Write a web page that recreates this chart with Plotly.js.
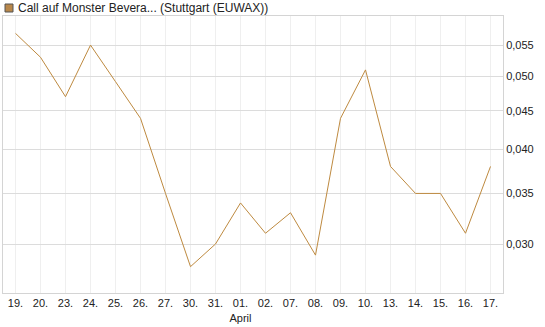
<!DOCTYPE html>
<html>
<head>
<meta charset="utf-8">
<script src="https://cdn.plot.ly/plotly-3.0.1.min.js"></script>
<style>html,body{margin:0;padding:0;background:#fff;}#chart{width:545px;height:327px;}</style>
</head>
<body>
<div id="chart"></div>
<script>
const dates = ['19.','20.','23.','24.','25.','26.','27.','30.','31.','01.','02.','07.','08.','09.','10.','13.','14.','15.','16.','17.'];
const tickLabels = ['19.','20.','23.','24.','25.','26.','27.','30.','31.','01.<br>April','02.','07.','08.','09.','10.','13.','14.','15.','16.','17.'];
const prices = [0.057,0.053,0.047,0.055,0.0492,0.044,0.035,0.028,0.030,0.034,0.031,0.033,0.029,0.044,0.051,0.038,0.035,0.035,0.031,0.038];
const yTicks = [0.030,0.035,0.040,0.045,0.050,0.055];
const seriesName = 'Call auf Monster Bevera... (Stuttgart (EUWAX))';

const lineColor = '#BE8A40';
const font = {family: 'Liberation Sans, Arial, sans-serif', size: 11, color: '#222'};
const legendFont = {family: 'Liberation Sans, Arial, sans-serif', size: 12, color: '#222'};

const trace = {
  x: dates, y: prices, type: 'scatter', mode: 'lines',
  line: {color: lineColor, width: 1}, name: seriesName, hoverinfo: 'skip'
};

const layout = {
  width: 545, height: 327,
  margin: {l: 3, r: 42, t: 16, b: 34},
  paper_bgcolor: '#fff', plot_bgcolor: '#fff',
  font: font,
  separators: ',.',
  showlegend: false,
  xaxis: {
    type: 'category', range: [-0.5, 19.5],
    tickvals: dates, ticktext: tickLabels,
    showgrid: true, gridcolor: '#efefef', gridwidth: 1,
    showline: true, linecolor: '#d4d4d4', linewidth: 1, mirror: true,
    ticks: '', tickfont: font, zeroline: false, fixedrange: true
  },
  yaxis: {
    type: 'log', side: 'right',
    range: [Math.log10(0.02584), Math.log10(0.0601)],
    tickvals: yTicks, tickformat: '.3f',
    showgrid: true, gridcolor: '#dcdcdc', gridwidth: 1,
    showline: true, linecolor: '#d4d4d4', linewidth: 1, mirror: true,
    ticks: '', tickfont: font, zeroline: false, fixedrange: true
  },
  shapes: [{
    type: 'rect', xref: 'paper', yref: 'paper',
    x0: 2/500, x1: 10/500, y0: 1 + 4/277, y1: 1 + 12/277,
    fillcolor: '#B8874A', line: {color: '#555', width: 1}
  }],
  annotations: [{
    text: seriesName, xref: 'paper', yref: 'paper',
    x: 13/500, y: 1 + 8/277, xanchor: 'left', yanchor: 'middle',
    showarrow: false, font: legendFont
  }]
};

Plotly.newPlot('chart', [trace], layout, {displayModeBar: false, staticPlot: true});
</script>
</body>
</html>
